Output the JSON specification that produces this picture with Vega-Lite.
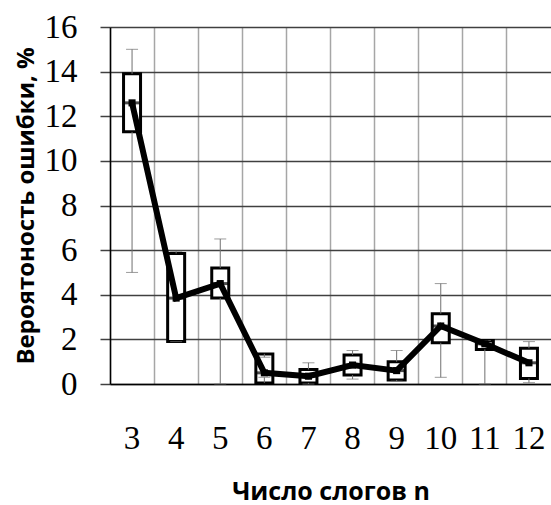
{
  "$schema": "https://vega.github.io/schema/vega-lite/v6.json",
  "autosize": "none",
  "width": 441,
  "height": 357,
  "padding": {"left": 110, "top": 27, "right": 0, "bottom": 121},
  "background": "white",
  "config": {
    "view": {"stroke": null},
    "axis": {"labelColor": "black", "titleColor": "black"}
  },
  "data": {
    "values": [
      {"n": "3", "lo": 5.0, "q1": 11.3, "med": 12.6, "q3": 13.9, "hi": 15.0},
      {"n": "4", "lo": 1.9, "q1": 1.9, "med": 3.85, "q3": 5.85, "hi": 5.95},
      {"n": "5", "lo": 0.0, "q1": 3.85, "med": 4.5, "q3": 5.2, "hi": 6.5},
      {"n": "6", "lo": 0.3, "q1": 0.05, "med": 0.5, "q3": 1.35, "hi": 1.2},
      {"n": "7", "lo": 0.0, "q1": 0.05, "med": 0.35, "q3": 0.65, "hi": 0.95},
      {"n": "8", "lo": 0.22, "q1": 0.4, "med": 0.85, "q3": 1.3, "hi": 1.5},
      {"n": "9", "lo": 0.13, "q1": 0.18, "med": 0.6, "q3": 1.0, "hi": 1.5},
      {"n": "10", "lo": 0.3, "q1": 1.85, "med": 2.6, "q3": 3.15, "hi": 4.5},
      {"n": "11", "lo": 0.0, "q1": 1.55, "med": 1.8, "q3": 1.95, "hi": 1.95},
      {"n": "12", "lo": 0.06, "q1": 0.25, "med": 0.95, "q3": 1.6, "hi": 1.9}
    ]
  },
  "encoding": {
    "x": {
      "field": "n",
      "type": "ordinal",
      "sort": null,
      "scale": {"paddingInner": 0, "paddingOuter": 0},
      "axis": {
        "title": "Число слогов n",
        "titleFont": "Open Sans",
        "titleFontWeight": "bold",
        "titleFontSize": 25,
        "titlePadding": 24,
        "labelAngle": 0,
        "labelFont": "Liberation Serif",
        "labelFontSize": 33,
        "labelPadding": 38,
        "ticks": false,
        "grid": true,
        "bandPosition": 0,
        "gridColor": "#a6a6a6",
        "gridWidth": 1.5,
        "domainColor": "black",
        "domainWidth": 1.5
      }
    }
  },
  "layer": [
    {
      "mark": {"type": "bar", "size": 17, "fill": "white", "stroke": "black", "strokeWidth": 3},
      "encoding": {
        "y": {
          "field": "q1",
          "type": "quantitative",
          "scale": {"domain": [0, 16], "nice": false},
          "axis": {
            "title": "Вероятоность ошибки, %",
            "titleFont": "Open Sans",
            "titleFontWeight": "bold",
            "titleFontSize": 24,
            "titlePadding": 6,
            "values": [0, 2, 4, 6, 8, 10, 12, 14, 16],
            "grid": true,
            "gridColor": "#404040",
            "gridWidth": 1.5,
            "gridOpacity": 1,
            "labelFont": "Liberation Serif",
            "labelFontSize": 33,
            "labelPadding": 23,
            "tickSize": 10,
            "tickWidth": 1.5,
            "tickColor": "#404040",
            "domainColor": "black",
            "domainWidth": 1.5
          }
        },
        "y2": {"field": "q3"}
      }
    },
    {
      "mark": {"type": "rule", "color": "#707070", "strokeWidth": 1},
      "encoding": {"y": {"field": "q3", "type": "quantitative"}, "y2": {"field": "hi"}}
    },
    {
      "mark": {"type": "rule", "color": "#707070", "strokeWidth": 1},
      "encoding": {"y": {"field": "lo", "type": "quantitative"}, "y2": {"field": "q1"}}
    },
    {
      "mark": {"type": "tick", "color": "#707070", "size": 12, "thickness": 1, "orient": "horizontal"},
      "encoding": {"y": {"field": "hi", "type": "quantitative"}}
    },
    {
      "mark": {"type": "tick", "color": "#707070", "size": 12, "thickness": 1, "orient": "horizontal"},
      "encoding": {"y": {"field": "lo", "type": "quantitative"}}
    },
    {
      "mark": {"type": "tick", "color": "black", "size": 17, "thickness": 3, "orient": "horizontal"},
      "encoding": {"y": {"field": "med", "type": "quantitative"}}
    },
    {
      "mark": {"type": "line", "color": "black", "strokeWidth": 6},
      "encoding": {"y": {"field": "med", "type": "quantitative"}}
    },
    {
      "mark": {"type": "point", "shape": "square", "filled": true, "color": "black", "size": 50, "opacity": 1},
      "encoding": {"y": {"field": "med", "type": "quantitative"}}
    }
  ]
}
